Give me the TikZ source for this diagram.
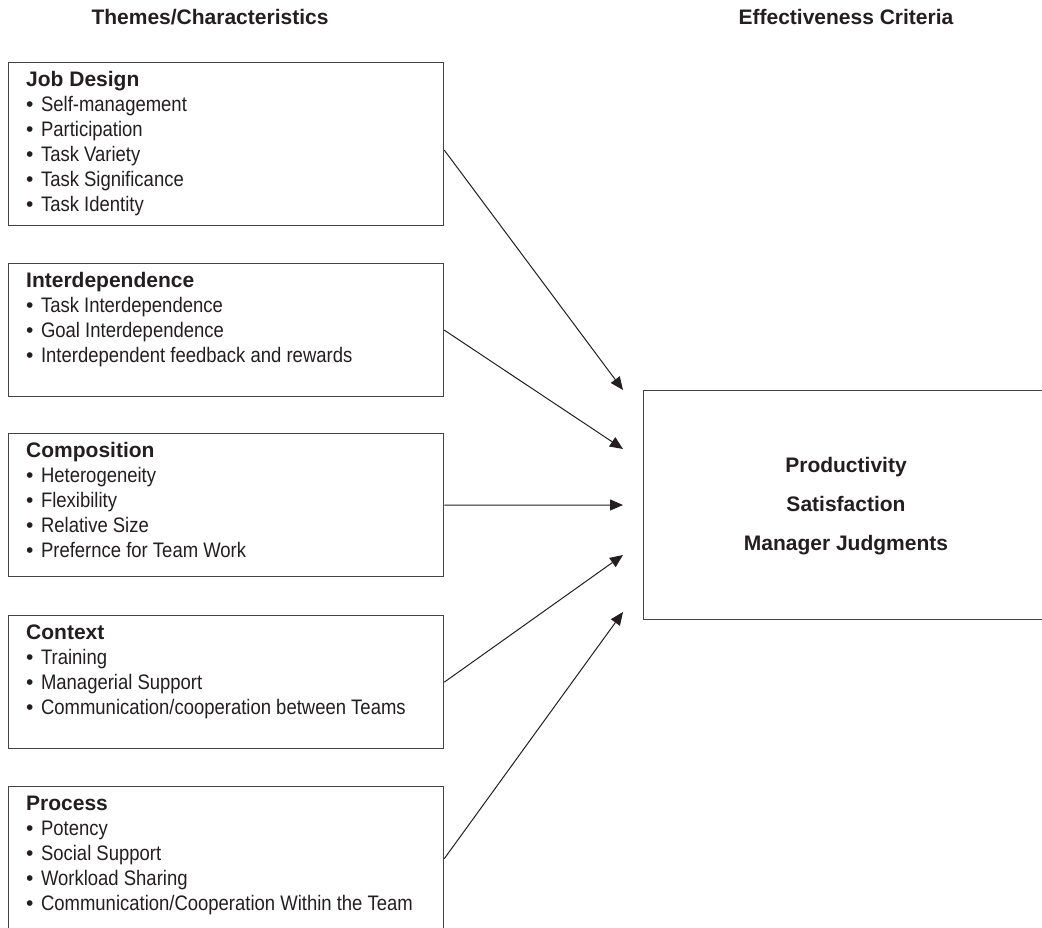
\documentclass[tikz,border=0pt]{standalone}
\usepackage{fontspec}
\setmainfont{Liberation Sans}
\newfontfamily\narrowfont[FakeStretch=0.88]{Liberation Sans}
\usetikzlibrary{arrows.meta}
\definecolor{ink}{HTML}{231F20}
\definecolor{edge}{HTML}{444444}
\newcommand\bitem[1]{{•\hspace{7.5pt}\narrowfont #1}}
\tikzset{
  box/.style={draw=edge, line width=1.3pt, rectangle, inner sep=0pt, anchor=north west},
  txt/.style={inner sep=0pt, align=left, text=ink, font=\fontsize{21}{25}\selectfont, anchor=north west},
  ttl/.style={inner sep=0pt, text=ink, font=\fontsize{21}{25}\selectfont\bfseries, anchor=base},
  crit/.style={inner sep=0pt, align=center, text=ink, font=\fontsize{21}{39}\selectfont\bfseries, anchor=north},
  arr/.style={draw=ink, line width=1pt, -{Triangle[length=13pt,width=11pt]}}
}
\begin{document}
\begin{tikzpicture}[x=1pt,y=-1pt]
\useasboundingbox[fill=white] (0,0) rectangle (1042,928);
% titles
\node[ttl] (t1title) at (210,25) {Themes/Characteristics};
\node[ttl] (t2title) at (846,25) {Effectiveness Criteria};
% boxes
\node[box, minimum width=435pt, minimum height=163pt] (jd) at (8,62) {};
\node[box, minimum width=435pt, minimum height=133pt] (id) at (8,263) {};
\node[box, minimum width=435pt, minimum height=143pt] (co) at (8,433) {};
\node[box, minimum width=435pt, minimum height=133pt] (cx) at (8,615) {};
\node[box, minimum width=435pt, minimum height=144pt] (pr) at (8,786) {};
\node[box, minimum width=399pt, minimum height=229pt] (ec) at (643,390) {};
% texts
\node[txt] (jdt) at (26,70) {\rule{0pt}{16pt}\textbf{Job Design}\\
  \bitem{Self-management}\\ \bitem{Participation}\\ \bitem{Task Variety}\\
  \bitem{Task Significance}\\ \bitem{Task Identity}};
\node[txt] (idt) at (26,271) {\rule{0pt}{16pt}\textbf{Interdependence}\\
  \bitem{Task Interdependence}\\ \bitem{Goal Interdependence}\\
  \bitem{Interdependent feedback and rewards}};
\node[txt] (cot) at (26,441) {\rule{0pt}{16pt}\textbf{Composition}\\
  \bitem{Heterogeneity}\\ \bitem{Flexibility}\\ \bitem{Relative Size}\\
  \bitem{Prefernce for Team Work}};
\node[txt] (cxt) at (26,623) {\rule{0pt}{16pt}\textbf{Context}\\
  \bitem{Training}\\ \bitem{Managerial Support}\\
  \bitem{Communication/cooperation between Teams}};
\node[txt] (prt) at (26,794) {\rule{0pt}{16pt}\textbf{Process}\\
  \bitem{Potency}\\ \bitem{Social Support}\\ \bitem{Workload Sharing}\\
  \bitem{Communication/Cooperation Within the Team}};
\node[crit] (ect) at (846,456) {\rule{0pt}{16pt}Productivity\\ Satisfaction\\ Manager Judgments};
% arrow targets
\coordinate (a1) at (623,390);
\coordinate (a2) at (623,449);
\coordinate (a3) at (623,505);
\coordinate (a4) at (623,555);
\coordinate (a5) at (623,612);
\draw[arr] ([yshift=-6pt]jd.east) -- (a1);
\draw[arr] (id.east) -- (a2);
\draw[arr] (co.east) -- (a3);
\draw[arr] (cx.east) -- (a4);
\draw[arr] (pr.east) -- (a5);
\end{tikzpicture}
\end{document}
